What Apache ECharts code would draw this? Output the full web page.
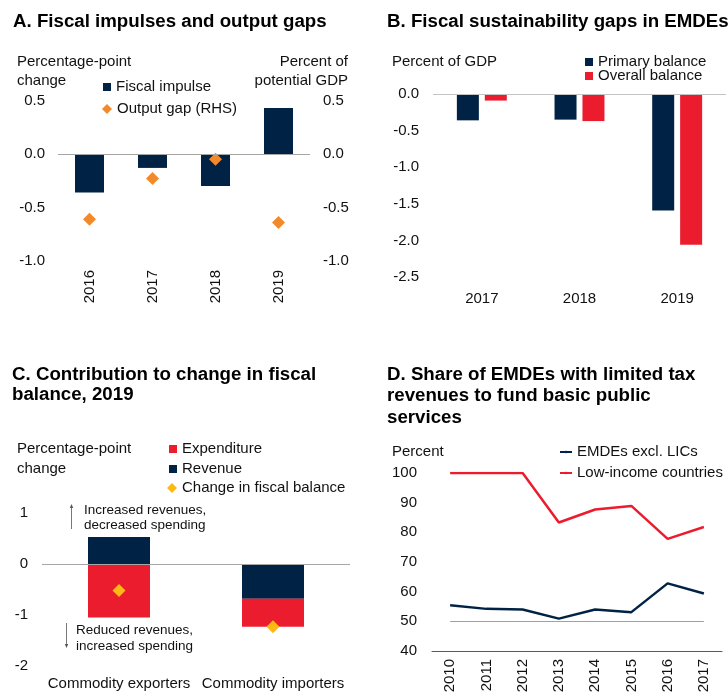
<!DOCTYPE html>
<html>
<head>
<meta charset="utf-8">
<script src="https://cdn.jsdelivr.net/npm/echarts@6/dist/echarts.min.js"></script>
<style>
  html, body { margin: 0; padding: 0; background: #fff; }
  #chart { width: 728px; height: 692px; }
</style>
</head>
<body>
<div id="chart"></div>
<script>
// ---- Panel A: fiscal impulses and output gaps ----
const yearsA = ['2016', '2017', '2018', '2019'];
const fiscalImpulse = [-0.36, -0.13, -0.30, 0.43];
const outputGap = [-0.61, -0.23, -0.05, -0.64];

// ---- Panel B: fiscal sustainability gaps ----
const yearsB = ['2017', '2018', '2019'];
const primaryBalance = [-0.36, -0.35, -1.59];
const overallBalance = [-0.09, -0.37, -2.06];

// ---- Panel C: contribution to change in fiscal balance, 2019 ----
const groupsC = ['Commodity exporters', 'Commodity importers'];
const revenue = [0.53, -0.68];
const expenditure = [-1.05, -0.55];
const balanceChange = [-0.52, -1.23];

// ---- Panel D: share of EMDEs with limited tax revenues ----
const yearsD = ['2010', '2011', '2012', '2013', '2014', '2015', '2016', '2017'];
const emdesExclLics = [55.4, 54.2, 54.0, 50.9, 54.0, 53.1, 62.8, 59.4];
const lowIncome = [100, 100, 100, 83.3, 87.7, 88.9, 77.8, 81.8];
const thresholdD = 50;

const FONT = "'Liberation Sans', Arial, sans-serif";
const NAVY = '#002345';
const RED = '#eb1c2d';
const ORANGE = '#f28a2c';
const GOLD = '#fdb913';
const TXT = '#111';

const chart = echarts.init(document.getElementById('chart'), null, { renderer: 'canvas' });

const axisLabel = (extra) => Object.assign({ color: TXT, fontSize: 15, fontFamily: FONT }, extra);
const noLine = { show: false };
const fixed1 = v => v.toFixed(1);

// one legend component per row, so each row sits exactly where it should
function legendRow(name, left, centerY, w, h, icon) {
  return {
    data: [icon ? { name: name, icon: icon } : name],
    left: left, top: centerY - 7.5, padding: 0,
    itemWidth: w, itemHeight: h, selectedMode: false,
    textStyle: { color: TXT, fontSize: 15, fontFamily: FONT, lineHeight: 15 }
  };
}

function zeroLine(color) {
  return {
    silent: true, symbol: 'none', label: { show: false },
    lineStyle: { color: color, width: 1, type: 'solid' },
    emphasis: { disabled: true },
    data: [{ yAxis: 0 }]
  };
}

function txt(x, y, text, opts) {
  return {
    type: 'text', x: x, y: y, silent: true,
    style: Object.assign({
      text: text, fill: TXT, font: '15px ' + FONT,
      textVerticalAlign: 'middle', textAlign: 'left'
    }, opts || {})
  };
}

const option = {
  animation: false,
  textStyle: { fontFamily: FONT },
  title: [
    { text: 'A. Fiscal impulses and output gaps', left: 13, top: 11 },
    { text: 'B. Fiscal sustainability gaps in EMDEs', left: 387, top: 11 },
    { text: 'C. Contribution to change in fiscal\nbalance, 2019', left: 12, top: 365 },
    { text: 'D. Share of EMDEs with limited tax\nrevenues to fund basic public\nservices', left: 387, top: 364 }
  ].map((t, i) => Object.assign(t, {
    padding: 0,
    textStyle: { fontSize: 18.7, fontWeight: 'bold', color: '#000', fontFamily: FONT, lineHeight: i === 3 ? 21.5 : (i === 2 ? 20 : 22) }
  })),
  legend: [
    legendRow('Fiscal impulse', 103, 87, 8, 8, 'rect'),
    legendRow('Output gap (RHS)', 102, 109, 10, 10, 'diamond'),
    legendRow('Primary balance', 585, 62, 8, 8, 'rect'),
    legendRow('Overall balance', 585, 76, 8, 8, 'rect'),
    legendRow('Expenditure', 169, 449, 8, 8, 'rect'),
    legendRow('Revenue', 169, 469, 8, 8, 'rect'),
    legendRow('Change in fiscal balance', 167, 488, 10, 10, 'diamond'),
    legendRow('EMDEs excl. LICs', 559, 452, 12, 3),
    legendRow('Low-income countries', 559, 473, 12, 3)
  ],
  grid: [
    { left: 58, top: 100.5, width: 252, height: 160.5 },
    { left: 433, top: 94, width: 293, height: 183 },
    { left: 42, top: 513, width: 308, height: 153 },
    { left: 432, top: 473, width: 290, height: 178 }
  ].map(g => Object.assign(g, { containLabel: false, outerBoundsMode: 'none' })),
  xAxis: [
    { gridIndex: 0, type: 'category', data: yearsA, axisLine: noLine, axisTick: noLine,
      axisLabel: axisLabel({ rotate: 90, margin: 9 }) },
    { gridIndex: 1, type: 'category', data: yearsB, axisLine: noLine, axisTick: noLine,
      axisLabel: axisLabel({ margin: 14 }) },
    { gridIndex: 2, type: 'category', data: groupsC, axisLine: noLine, axisTick: noLine,
      axisLabel: axisLabel({ margin: 10, interval: 0 }) },
    { gridIndex: 3, type: 'category', data: yearsD, boundaryGap: true,
      axisLine: { show: true, onZero: false, lineStyle: { color: '#595959', width: 1 } },
      axisTick: noLine, axisLabel: axisLabel({ rotate: 90, margin: 8, interval: 0 }) }
  ],
  yAxis: [
    { gridIndex: 0, type: 'value', min: -1, max: 0.5, interval: 0.5, splitLine: noLine,
      axisLine: noLine, axisTick: noLine, axisLabel: axisLabel({ margin: 13, formatter: fixed1 }) },
    { gridIndex: 0, type: 'value', position: 'right', min: -1, max: 0.5, interval: 0.5, splitLine: noLine,
      axisLine: noLine, axisTick: noLine, axisLabel: axisLabel({ margin: 13, formatter: fixed1 }) },
    { gridIndex: 1, type: 'value', min: -2.5, max: 0, interval: 0.5, splitLine: noLine,
      axisLine: noLine, axisTick: noLine, axisLabel: axisLabel({ margin: 14, formatter: fixed1 }) },
    { gridIndex: 2, type: 'value', min: -2, max: 1, interval: 1, splitLine: noLine,
      axisLine: noLine, axisTick: noLine, axisLabel: axisLabel({ margin: 14 }) },
    { gridIndex: 3, type: 'value', min: 40, max: 100, interval: 10, splitLine: noLine,
      axisLine: noLine, axisTick: noLine, axisLabel: axisLabel({ margin: 15 }) }
  ],
  series: [
    // Panel A
    { name: 'Fiscal impulse', type: 'bar', xAxisIndex: 0, yAxisIndex: 0, data: fiscalImpulse,
      barWidth: 29, itemStyle: { color: NAVY }, markLine: zeroLine('#a6a6a6'), z: 2 },
    { name: 'Output gap (RHS)', type: 'scatter', xAxisIndex: 0, yAxisIndex: 1, data: outputGap,
      symbol: 'diamond', symbolSize: 13, itemStyle: { color: ORANGE, opacity: 1 }, z: 4 },
    // Panel B
    { name: 'Primary balance', type: 'bar', xAxisIndex: 1, yAxisIndex: 2, data: primaryBalance,
      barWidth: 22, barGap: '27%', itemStyle: { color: NAVY }, markLine: zeroLine('#c4c4c4') },
    { name: 'Overall balance', type: 'bar', xAxisIndex: 1, yAxisIndex: 2, data: overallBalance,
      barWidth: 22, barGap: '27%', itemStyle: { color: RED } },
    // Panel C (revenue stacked first so it sits next to the zero line)
    { name: 'Revenue', type: 'bar', xAxisIndex: 2, yAxisIndex: 3, data: revenue, stack: 'c',
      barWidth: 62, itemStyle: { color: NAVY }, markLine: zeroLine('#a6a6a6') },
    { name: 'Expenditure', type: 'bar', xAxisIndex: 2, yAxisIndex: 3, data: expenditure, stack: 'c',
      barWidth: 62, itemStyle: { color: RED } },
    { name: 'Change in fiscal balance', type: 'scatter', xAxisIndex: 2, yAxisIndex: 3, data: balanceChange,
      symbol: 'diamond', symbolSize: 13, itemStyle: { color: GOLD, opacity: 1 }, z: 4 },
    // Panel D
    { name: 'EMDEs excl. LICs', type: 'line', xAxisIndex: 3, yAxisIndex: 4, data: emdesExclLics,
      symbol: 'none', lineStyle: { color: NAVY, width: 2.5 }, itemStyle: { color: NAVY },
      markLine: {
        silent: true, symbol: 'none', label: { show: false },
        lineStyle: { color: '#a0a0a0', width: 1, type: 'solid' },
        data: [[{ coord: [yearsD[0], thresholdD] }, { coord: [yearsD[yearsD.length - 1], thresholdD] }]]
      } },
    { name: 'Low-income countries', type: 'line', xAxisIndex: 3, yAxisIndex: 4, data: lowIncome,
      symbol: 'none', lineStyle: { color: RED, width: 2.5 }, itemStyle: { color: RED } }
  ],
  graphic: [
    txt(17, 62, 'Percentage-point'),
    txt(17, 81, 'change'),
    txt(348, 62, 'Percent of', { textAlign: 'right' }),
    txt(348, 81, 'potential GDP', { textAlign: 'right' }),
    txt(392, 62, 'Percent of GDP'),
    txt(17, 449, 'Percentage-point'),
    txt(17, 469, 'change'),
    txt(392, 452, 'Percent'),
    // direction notes in panel C
    txt(84, 510, 'Increased revenues,', { font: '13.5px ' + FONT }),
    txt(84, 525, 'decreased spending', { font: '13.5px ' + FONT }),
    txt(76, 630, 'Reduced revenues,', { font: '13.5px ' + FONT }),
    txt(76, 646, 'increased spending', { font: '13.5px ' + FONT }),
    { type: 'line', silent: true, shape: { x1: 71.5, y1: 507, x2: 71.5, y2: 529 },
      style: { stroke: '#555', lineWidth: 0.8 } },
    { type: 'polygon', silent: true, shape: { points: [[71.5, 504], [69.8, 508], [73.2, 508]] },
      style: { fill: '#555' } },
    { type: 'line', silent: true, shape: { x1: 66.5, y1: 623, x2: 66.5, y2: 645 },
      style: { stroke: '#555', lineWidth: 0.8 } },
    { type: 'polygon', silent: true, shape: { points: [[66.5, 648], [64.8, 644], [68.2, 644]] },
      style: { fill: '#555' } }
  ]
};

chart.setOption(option);
</script>
</body>
</html>
